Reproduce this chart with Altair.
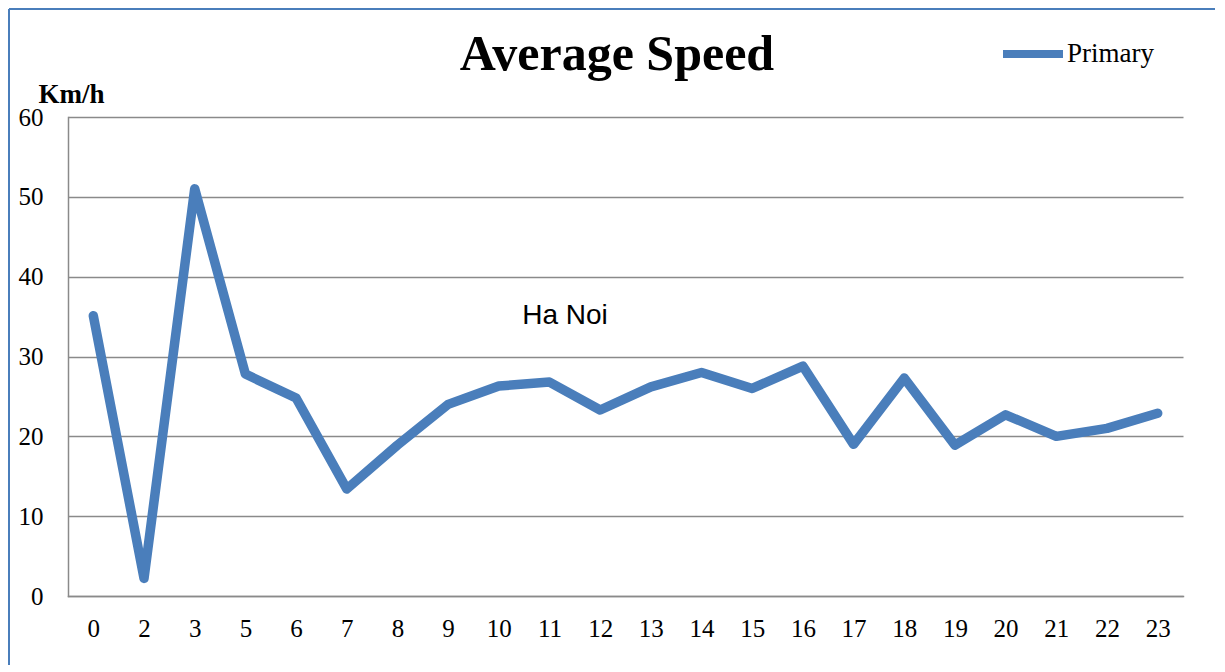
import altair as alt
import pandas as pd

hours = ["0", "2", "3", "5", "6", "7", "8", "9", "10", "11", "12", "13",
         "14", "15", "16", "17", "18", "19", "20", "21", "22", "23"]
speed = [35.1, 2.2, 51.0, 27.8, 24.8, 13.4, 18.9, 24.0, 26.3, 26.8, 23.3, 26.2,
         28.0, 26.0, 28.8, 19.0, 27.3, 18.9, 22.7, 20.0, 21.0, 22.9]
series = ["Primary"] * len(hours)
chart_title = ["Average Speed"]
note_text = ["Ha Noi"]

df = pd.DataFrame({"hour": hours, "speed": speed, "series": series})

W, H = 1115, 479
SERIF = "Liberation Serif"
BLUE = "#4a7ebb"
GRID = "#8a8a8a"

line = alt.Chart(df).mark_line(
    strokeWidth=9.5, strokeCap="round", strokeJoin="round"
).encode(
    x=alt.X("hour:O", sort=hours, scale=alt.Scale(type="point", padding=0.5),
            axis=alt.Axis(title=None, labelAngle=0, ticks=False, grid=False,
                          domainColor=GRID, domainWidth=1.5,
                          labelFont=SERIF, labelFontSize=25, labelColor="#000",
                          labelPadding=20)),
    y=alt.Y("speed:Q", scale=alt.Scale(domain=[0, 60], nice=False),
            axis=alt.Axis(title="Km/h", titleAngle=0, titleAlign="left",
                          titleBaseline="alphabetic", titleX=-30, titleY=-15,
                          titleFont=SERIF, titleFontSize=27, titleFontWeight="bold",
                          titleColor="#000",
                          values=[0, 10, 20, 30, 40, 50, 60], ticks=False,
                          grid=True, gridColor=GRID, gridWidth=1.5,
                          domainColor=GRID, domainWidth=1.5,
                          labelFont=SERIF, labelFontSize=25, labelColor="#000",
                          labelPadding=25)),
    color=alt.Color("series:N", scale=alt.Scale(range=[BLUE]),
                    legend=alt.Legend(title=None, orient="none", legendX=931, legendY=-97,
                                      symbolType="stroke", symbolSize=3600,
                                      symbolStrokeWidth=8, labelFont=SERIF,
                                      labelFontSize=27, labelColor="#000",
                                      labelOffset=0, padding=0)),
)

title = alt.Chart(pd.DataFrame({"t": chart_title})).mark_text(
    font=SERIF, fontSize=50, fontWeight="bold", color="#000",
    align="center", baseline="alphabetic"
).encode(x=alt.value(549), y=alt.value(-47), text="t:N")

note = alt.Chart(pd.DataFrame({"t": note_text})).mark_text(
    font="Liberation Sans", fontSize=28, color="#000", align="center", baseline="middle"
).encode(x=alt.value(497), y=alt.value(199), text="t:N")

frame_left = alt.Chart(pd.DataFrame({"a": [0]})).mark_rule(
    color=BLUE, strokeWidth=2
).encode(x=alt.value(-59), y=alt.value(-108), y2=alt.value(548))

frame_top = alt.Chart(pd.DataFrame({"a": [0]})).mark_rule(
    color=BLUE, strokeWidth=2
).encode(x=alt.value(-59), x2=alt.value(1147), y=alt.value(-108))

chart = alt.layer(frame_left, frame_top, line, note, title).properties(
    width=W, height=H,
    padding=0,
).configure_view(stroke=None).configure_axis(domainCap="square")

chart.save("out.html", embed_options={"renderer": "svg", "actions": False})
